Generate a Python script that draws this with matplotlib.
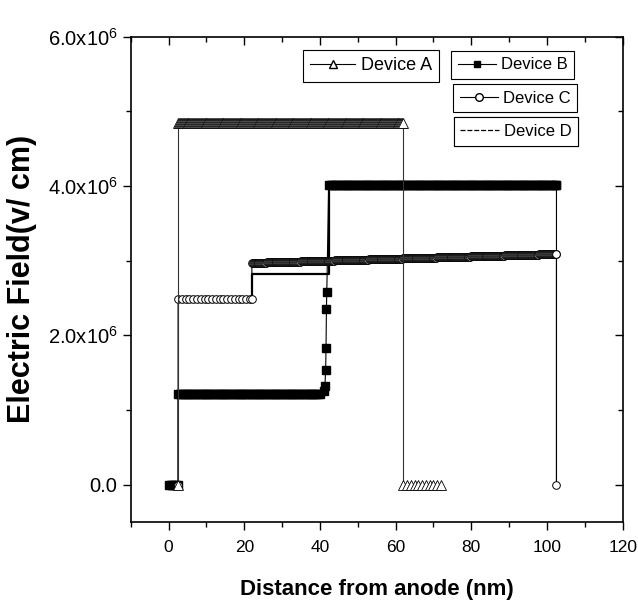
import numpy as np
import matplotlib
matplotlib.use('Agg')
import matplotlib.pyplot as plt
from matplotlib.lines import Line2D
from matplotlib.ticker import MultipleLocator, FixedLocator

plt.rcParams['font.family'] = ['Liberation Sans', 'DejaVu Sans']
plt.rcParams['mathtext.default'] = 'regular'

# breakpoints (x in nm, field in V/cm)
a_x = [2.5, 2.5, 62.0, 62.0, 72.0]
a_y = [0.0, 4.85e6, 4.85e6, 0.0, 0.0]
a_step = [0, 0.25, 0, 1.0]

b_x = [0.0, 2.5, 2.5, 40.0, 41.0, 41.3, 41.5, 41.6, 41.7, 41.8, 42.3, 102.5, 102.5]
b_y = [0.0, 0.0, 1.22e6, 1.22e6, 1.25e6, 1.32e6, 1.54e6, 1.83e6, 2.35e6, 2.58e6,
       4.01e6, 4.01e6, 0.0]
b_step = [0.5, 0, 0.5, 0, 0, 0, 0, 0, 0, 0, 0.5, 0]

c_x = [2.5, 2.5, 22.0, 22.0, 102.5, 102.5]
c_y = [0.0, 2.48e6, 2.48e6, 2.97e6, 3.09e6, 0.0]
c_step = [0, 1.0, 0, 0.25, 0]

d_x = [22.0, 22.0, 42.5, 42.5]
d_y = [2.48e6, 2.82e6, 2.82e6, 4.01e6]

labels = ['Device A', 'Device B', 'Device C', 'Device D']
yticks = [0, 2e6, 4e6, 6e6]
ytick_labels = ['0.0', '2.0x10$^6$', '4.0x10$^6$', '6.0x10$^6$']


def mesh(xs, ys, steps):
    '''sample the piecewise path on the simulation mesh'''
    px, py = [xs[0]], [ys[0]]
    for i in range(len(xs) - 1):
        x0, x1 = xs[i], xs[i + 1]
        if steps[i] > 0 and x1 - x0 > steps[i]:
            xm = np.arange(x0 + steps[i], x1 - 1e-9, steps[i])
            px += list(xm)
            py += list(np.interp(xm, [x0, x1], [ys[i], ys[i + 1]]))
        px.append(x1)
        py.append(ys[i + 1])
    return np.array(px), np.array(py)


fig = plt.figure(figsize=(6.38, 6.04), dpi=100)
ax = fig.add_axes([0.205, 0.136, 0.771, 0.803])

ax.plot(d_x, d_y, '-', color='black', lw=1.6, zorder=2)

bx, by = mesh(b_x, b_y, b_step)
ax.plot(bx, by, '-', color='black', lw=0.8, marker='s', ms=5.5,
        mfc='black', mec='black', markevery=list(range(len(bx) - 1)), zorder=3)

cx, cy = mesh(c_x, c_y, c_step)
ax.plot(cx, cy, '-', color='black', lw=0.8, marker='o', ms=5.5,
        mfc='white', mec='black', mew=0.7, zorder=4)

ax_, ay = mesh(a_x, a_y, a_step)
ax.plot(ax_, ay, '-', color='#333333', lw=0.8, marker='^', ms=6.5,
        mfc='white', mec='black', mew=0.6, zorder=5)

ax.set_xlim(-10, 120)
ax.set_ylim(-0.5e6, 6.0e6)
ax.xaxis.set_major_locator(MultipleLocator(20))
ax.xaxis.set_minor_locator(MultipleLocator(10))
ax.yaxis.set_major_locator(FixedLocator(yticks))
ax.yaxis.set_minor_locator(FixedLocator([1e6, 3e6, 5e6]))
ax.set_yticklabels(ytick_labels, fontsize=14.5)
for t in ax.get_xticklabels():
    t.set_fontsize(12.5)

ax.tick_params(which='both', direction='out', top=True, right=True, width=1)
ax.tick_params(which='major', length=6)
ax.tick_params(which='minor', length=3.5)
ax.tick_params(axis='x', pad=7)
for spine in ax.spines.values():
    spine.set_linewidth(1.2)
# top and right ticks point inward
for tk in ax.xaxis.get_major_ticks() + ax.xaxis.get_minor_ticks():
    tk.tick2line.set_marker(3)
for tk in ax.yaxis.get_major_ticks() + ax.yaxis.get_minor_ticks():
    tk.tick2line.set_marker(0)

ax.set_xlabel('Distance from anode (nm)', fontsize=16, fontweight='bold', va='top')
ax.xaxis.set_label_coords(0.5, -0.118)
ax.set_ylabel('Electric Field(v/ cm)', fontsize=22, fontweight='bold', va='center')
ax.yaxis.set_label_coords(-0.222, 0.5)

handles = [
    Line2D([], [], color='black', lw=0.8, marker='^', ms=6, mfc='white', mec='black'),
    Line2D([], [], color='black', lw=0.8, marker='s', ms=5, mfc='black', mec='black'),
    Line2D([], [], color='black', lw=0.8, marker='o', ms=5.5, mfc='white', mec='black'),
    Line2D([], [], color='black', lw=0.9, ls=(0, (4, 1.5))),
]
anchors = [(0.475, 0.917), (0.707, 0.916), (0.710, 0.861), (0.711, 0.806)]
sizes = [13, 12, 12, 12]
hlens = [2.5, 2.3, 2.3, 2.3]
for h, lab, anc, fs, hl in zip(handles, labels, anchors, sizes, hlens):
    lg = ax.legend([h], [lab], loc='upper left', bbox_to_anchor=anc,
                   bbox_transform=fig.transFigure, borderaxespad=0, fontsize=fs,
                   fancybox=False, framealpha=1, edgecolor='black',
                   handlelength=hl, handletextpad=0.3, borderpad=0.4)
    lg.get_frame().set_linewidth(0.8)
    ax.add_artist(lg)

fig.savefig('out.png', dpi=100)
